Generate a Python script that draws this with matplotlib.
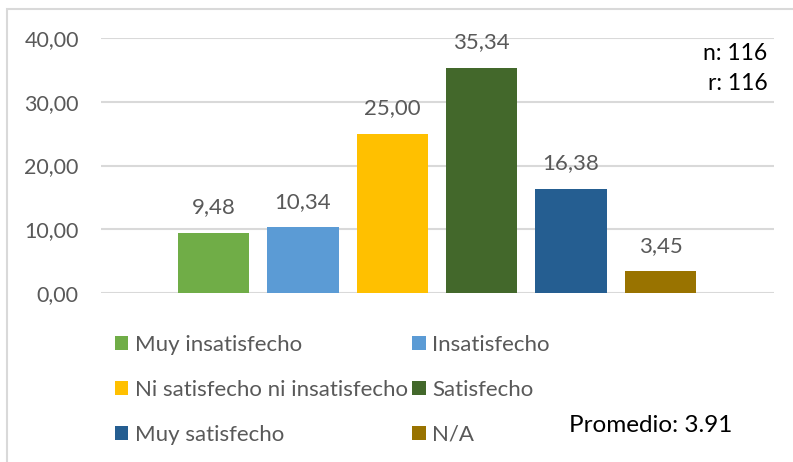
import matplotlib
matplotlib.use("Agg")
import matplotlib.pyplot as plt
from matplotlib.patches import Rectangle
from matplotlib.ticker import FuncFormatter

# Datos de satisfaccion (%)
categorias = ["Muy insatisfecho", "Insatisfecho", "Ni satisfecho ni insatisfecho",
              "Satisfecho", "Muy satisfecho", "N/A"]
porcentajes = [9.48, 10.34, 25.00, 35.34, 16.38, 3.45]
colores = ["#70AD47", "#5B9BD5", "#FFC000", "#43682B", "#255E91", "#997300"]
n_total = 116
r_total = 116
promedio = 3.91

plt.rcParams['font.family'] = ['Lato', 'DejaVu Sans']
gris = "#595959"

fig = plt.figure(figsize=(7.93, 4.62), dpi=100)
ax = fig.add_axes([0.1274, 0.3658, 0.8486, 0.5519])

# borde del grafico
fig.patches.append(Rectangle((7 / 793, -0.1), 1.0, 1 - 9 / 462 + 0.1,
                             transform=fig.transFigure, fill=False,
                             edgecolor="#d9d9d9", linewidth=1.5))

barras = []
for i, (cat, val, col) in enumerate(zip(categorias, porcentajes, colores)):
    b = ax.bar(i, val, width=0.8, color=col, label=cat, zorder=3)
    barras.append(b)
    ax.annotate(f"{val:.2f}".replace(".", ","), (i, val), xytext=(0, 11),
                textcoords="offset points", ha="center", va="bottom",
                fontsize=16, color=gris)

ax.set_xlim(-1.26, 6.27)
ax.set_ylim(0, 40)
ax.set_yticks([0, 10, 20, 30, 40])
ax.yaxis.set_major_formatter(FuncFormatter(lambda v, p: f"{v:.2f}".replace(".", ",")))
ax.tick_params(axis="y", length=0, pad=16, labelsize=15.5, labelcolor=gris)
ax.set_xticks([])
ax.grid(axis="y", color="#d9d9d9", linewidth=1.5, zorder=0)
for s in ax.spines.values():
    s.set_visible(False)

# leyenda en dos columnas (orden por filas)
orden = [0, 2, 4, 1, 3, 5]
fig.legend([barras[k] for k in orden], [categorias[k] for k in orden],
           ncol=2, loc="upper left", bbox_to_anchor=(0.145, 0.275),
           frameon=False, fontsize=16, labelcolor=gris,
           handlelength=0.6, handleheight=0.6, handletextpad=0.3,
           columnspacing=0.2, labelspacing=1.12, borderpad=0, borderaxespad=0)

fig.text(0.968, 0.885, f"n: {n_total}", ha="right", va="center", fontsize=16.5, color="black")
fig.text(0.968, 0.82, f"r: {r_total}", ha="right", va="center", fontsize=16.5, color="black")
fig.text(0.718, 0.08, f"Promedio: {promedio}", ha="left", va="center", fontsize=17.5, color="black")

fig.savefig("out.png", dpi=100)
